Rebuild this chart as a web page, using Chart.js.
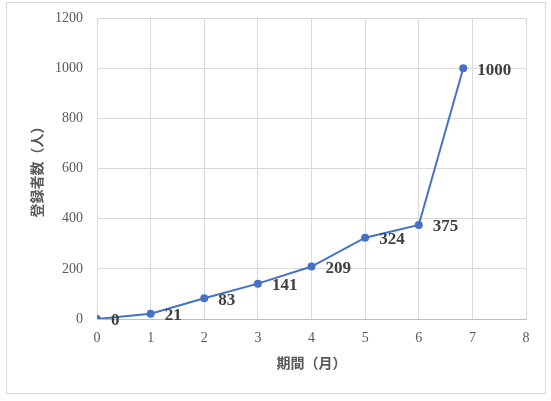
<!DOCTYPE html>
<html>
<head>
<meta charset="utf-8">
<script src="https://cdn.jsdelivr.net/npm/chart.js@4.4.0/dist/chart.umd.min.js"></script>
<style>
    html, body { margin: 0; padding: 0; background: #fff; }
    canvas { display: block; }
</style>
</head>
<body>
<canvas id="chart" width="551" height="401"></canvas>
<script>
// Data
const months = [0, 1, 2, 3, 4, 5, 6, 6.83];
const subscribers = [0, 21, 83, 141, 209, 324, 375, 1000];
const xTitle = '期間（月）';
const yTitle = '登録者数（人）';

const lineColor = '#4472c4';
const gridColor = '#d9d9d9';
const textColor = '#595959';

// Outer frame around the whole chart
const framePlugin = {
    id: 'frame',
    beforeDraw(chart) {
        const ctx = chart.ctx;
        ctx.save();
        ctx.fillStyle = '#fff';
        ctx.fillRect(0, 0, chart.width, chart.height);
        ctx.strokeStyle = gridColor;
        ctx.lineWidth = 1;
        ctx.strokeRect(6.5, 2.5, 539, 391);
        ctx.restore();
    }
};

// Value labels to the right of each point
const valueLabels = {
    id: 'valueLabels',
    afterDatasetsDraw(chart) {
        const ctx = chart.ctx;
        const meta = chart.getDatasetMeta(0);
        ctx.save();
        ctx.font = 'bold 17px "Liberation Serif", serif';
        ctx.fillStyle = '#404040';
        ctx.textAlign = 'left';
        ctx.textBaseline = 'middle';
        meta.data.forEach((pt, i) => {
            ctx.fillText(String(subscribers[i]), pt.x + 14, pt.y + 2);
        });
        ctx.restore();
    }
};

const ctx = document.getElementById('chart').getContext('2d');
new Chart(ctx, {
    type: 'scatter',
    data: {
        datasets: [{
            data: months.map((m, i) => ({ x: m, y: subscribers[i] })),
            showLine: true,
            borderColor: lineColor,
            backgroundColor: lineColor,
            borderWidth: 2,
            pointRadius: 4,
            pointBorderWidth: 0,
            tension: 0
        }]
    },
    options: {
        responsive: false,
        animation: false,
        layout: {
            padding: { top: 18, right: 25, bottom: 0, left: 0 }
        },
        plugins: {
            legend: { display: false },
            tooltip: { enabled: false }
        },
        scales: {
            x: {
                type: 'linear',
                min: 0,
                max: 8,
                afterFit(scale) { scale.height = 82; },
                grid: { color: gridColor, drawTicks: false },
                border: { color: '#bfbfbf' },
                ticks: {
                    stepSize: 1,
                    padding: 11,
                    color: textColor,
                    font: { family: '"Liberation Serif", serif', size: 14 },
                    callback: value => String(value)
                },
                title: {
                    display: true,
                    text: xTitle,
                    color: textColor,
                    padding: { top: 0, bottom: 30 },
                    font: { family: '"Noto Sans CJK JP", sans-serif', size: 14, weight: 'bold' }
                }
            },
            y: {
                min: 0,
                max: 1200,
                afterFit(scale) { scale.width = 97; },
                // invisible tick marks keep the label gap without pushing the plot down
                grid: { color: gridColor, drawTicks: true, tickLength: 6, tickColor: 'rgba(0,0,0,0)' },
                border: { color: gridColor },
                ticks: {
                    stepSize: 200,
                    padding: 8,
                    color: textColor,
                    font: { family: '"Liberation Serif", serif', size: 14 },
                    callback: value => String(value)
                },
                title: {
                    display: true,
                    text: yTitle,
                    color: textColor,
                    padding: { top: 28, bottom: 0 },
                    font: { family: '"Noto Sans CJK JP", sans-serif', size: 14, weight: 'bold' }
                }
            }
        }
    },
    plugins: [framePlugin, valueLabels]
});
</script>
</body>
</html>
